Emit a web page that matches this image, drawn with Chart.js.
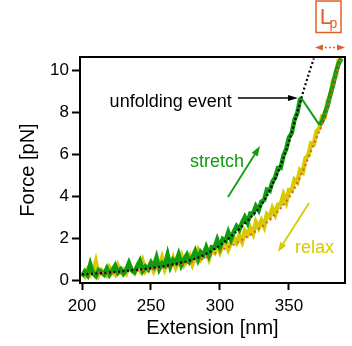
<!DOCTYPE html>
<html>
<head>
<meta charset="utf-8">
<script src="https://cdn.jsdelivr.net/npm/chart.js@4.4.1/dist/chart.umd.min.js"></script>
<style>
  html, body { margin: 0; padding: 0; background: #fff; }
  #wrap { width: 352px; height: 346px; }
</style>
</head>
<body>
<div id="wrap"><canvas id="forceChart" width="352" height="346"></canvas></div>
<script>
// Stretch trace (nm, pN): folded branch, unfolding jump, then unfolded branch
const stretchExt = [
  200, 202, 204, 206, 208, 210, 212, 214, 216, 218, 220, 222, 224, 226, 228, 230,
  232, 234, 236, 238, 240, 242, 244, 246, 248, 250, 252, 254, 256, 258, 260, 262,
  264, 266, 268, 270, 272, 274, 276, 278, 280, 282, 284, 286, 288, 290, 292, 294,
  296, 298, 300, 302, 304, 306, 308, 310, 312, 314, 316, 318, 320, 322, 324, 326,
  328, 330, 332, 334, 336, 338, 340, 342, 344, 346, 348, 350, 352, 354, 356, 358,
  359, 372, 374, 376, 378, 380, 382, 384, 386, 388
];
const stretchForce = [
  0.20, 0.43, 0.26, 0.77, 0.35, 0.22, 0.50, 0.41, 0.29, 0.58, 0.29, 0.48, 0.71, 0.38, 0.54, 0.33,
  0.51, 0.83, 0.49, 0.40, 0.67, 0.93, 0.47, 0.67, 0.53, 0.85, 0.67, 1.09, 0.56, 0.83, 0.72, 1.23,
  0.67, 0.98, 0.85, 1.23, 0.74, 1.01, 1.23, 0.91, 1.10, 1.40, 1.00, 1.36, 1.22, 1.58, 1.21, 1.59,
  1.57, 1.95, 1.58, 1.98, 1.89, 2.30, 1.96, 2.32, 2.59, 2.42, 2.75, 3.02, 2.75, 3.19, 3.19, 3.54,
  3.34, 3.75, 3.83, 4.32, 4.26, 4.70, 4.90, 5.35, 5.35, 5.95, 6.25, 6.80, 7.00, 7.65, 7.95, 8.60,
  8.66, 7.40, 7.55, 7.95, 8.30, 8.85, 9.30, 9.90, 10.30, 10.55
];

// Relax trace (nm, pN)
const relaxExt = [
  200, 202, 204, 206, 208, 210, 212, 214, 216, 218, 220, 222, 224, 226, 228, 230,
  232, 234, 236, 238, 240, 242, 244, 246, 248, 250, 252, 254, 256, 258, 260, 262,
  264, 266, 268, 270, 272, 274, 276, 278, 280, 282, 284, 286, 288, 290, 292, 294,
  296, 298, 300, 302, 304, 306, 308, 310, 312, 314, 316, 318, 320, 322, 324, 326,
  328, 330, 332, 334, 336, 338, 340, 342, 344, 346, 348, 350, 352, 354, 356, 358,
  360, 362, 364, 366, 368, 370, 372, 374, 376, 378, 380, 382, 384, 386, 388
];
const relaxForce = [
  0.35, 0.21, 0.51, 0.27, 0.43, 0.89, 0.27, 0.50, 0.36, 0.25, 0.63, 0.44, 0.30, 0.71, 0.42, 0.53,
  0.36, 0.80, 0.51, 0.37, 0.68, 0.49, 0.91, 0.47, 0.64, 0.85, 0.47, 0.74, 0.65, 1.07, 0.56, 0.86,
  0.69, 1.06, 0.64, 0.91, 1.19, 0.76, 0.94, 1.17, 0.78, 1.14, 1.43, 1.02, 1.21, 1.45, 1.06, 1.48,
  1.34, 1.76, 1.37, 1.68, 1.89, 1.50, 1.81, 2.02, 1.80, 2.12, 1.85, 2.37, 2.20, 2.49, 2.23, 2.77,
  2.51, 2.85, 2.57, 3.14, 3.01, 3.43, 3.15, 3.61, 3.62, 4.08, 3.74, 4.30, 4.27, 4.79, 4.67, 5.25,
  5.15, 5.82, 5.94, 6.51, 6.48, 7.10, 7.22, 7.79, 7.77, 8.51, 8.80, 9.52, 9.74, 10.45, 10.55
];

// WLC fit to the folded state
const fitFoldedExt = [200, 210, 220, 230, 240, 250, 260, 270, 280, 290, 300, 310, 320, 330, 335, 340, 345, 350, 355, 360, 365, 368];
const fitFoldedForce = [0.30, 0.34, 0.39, 0.45, 0.52, 0.60, 0.70, 0.83, 1.00, 1.28, 1.68, 2.22, 2.85, 3.60, 4.15, 4.85, 5.65, 6.60, 7.75, 8.90, 9.95, 10.55];

// WLC fit to the unfolded state
const fitUnfoldedExt = [200, 210, 220, 230, 240, 250, 260, 270, 280, 290, 300, 310, 320, 330, 340, 345, 350, 355, 360, 365, 370, 375, 380, 385, 388];
const fitUnfoldedForce = [0.30, 0.34, 0.38, 0.43, 0.48, 0.55, 0.64, 0.76, 0.90, 1.10, 1.42, 1.72, 2.10, 2.55, 3.15, 3.52, 3.95, 4.50, 5.20, 6.00, 6.80, 7.60, 8.70, 10.00, 10.60];

const xTicks = [200, 250, 300, 350];
const yTicks = [0, 2, 4, 6, 8, 10];

const GREEN = '#109c10';
const YELLOW = '#d6ca00';
const ORANGE = '#e0602a';
const FONT = '"Liberation Sans", Arial, sans-serif';

function toPoints(xs, ys) {
  return xs.map((v, i) => ({ x: v, y: ys[i] }));
}

function arrow(ctx, x1, y1, x2, y2, color, width, headLen, headW) {
  const a = Math.atan2(y2 - y1, x2 - x1);
  const bx = x2 - headLen * Math.cos(a), by = y2 - headLen * Math.sin(a);
  ctx.save();
  ctx.strokeStyle = color;
  ctx.fillStyle = color;
  ctx.lineWidth = width;
  ctx.beginPath();
  ctx.moveTo(x1, y1);
  ctx.lineTo(bx, by);
  ctx.stroke();
  ctx.beginPath();
  ctx.moveTo(x2, y2);
  ctx.lineTo(bx + headW / 2 * Math.sin(a), by - headW / 2 * Math.cos(a));
  ctx.lineTo(bx - headW / 2 * Math.sin(a), by + headW / 2 * Math.cos(a));
  ctx.closePath();
  ctx.fill();
  ctx.restore();
}

// frame, labels and arrows
const annotations = {
  id: 'annotations',
  afterDraw(chart) {
    const ctx = chart.ctx;
    const { left, right, top, bottom } = chart.chartArea;
    const px = v => chart.scales.x.getPixelForValue(v);
    const py = v => chart.scales.y.getPixelForValue(v);

    ctx.save();
    ctx.strokeStyle = '#000';
    ctx.lineWidth = 2;
    ctx.strokeRect(left, top, right - left, bottom - top);

    ctx.font = '18px ' + FONT;
    ctx.textBaseline = 'alphabetic';

    // unfolding event
    ctx.fillStyle = '#000';
    ctx.textAlign = 'right';
    ctx.fillText('unfolding event', px(308.5), py(8.26));
    arrow(ctx, px(313), py(8.67), px(356.5), py(8.67), '#000', 1.6, 10, 6);

    // stretch
    ctx.fillStyle = GREEN;
    ctx.textAlign = 'left';
    ctx.fillText('stretch', px(278.3), py(5.41));
    arrow(ctx, px(305.8), py(3.97), px(329), py(6.39), GREEN, 1.8, 10, 7);

    // relax
    ctx.fillStyle = YELLOW;
    ctx.fillText('relax', px(354.3), py(1.31));
    arrow(ctx, px(364.5), py(3.69), px(342), py(1.36), YELLOW, 1.8, 10, 7);

    // contour length increment
    ctx.strokeStyle = ORANGE;
    ctx.fillStyle = ORANGE;
    ctx.lineWidth = 1.5;
    ctx.strokeRect(px(369.6), 1, px(387.7) - px(369.6), 31.5);
    ctx.font = '22px ' + FONT;
    ctx.fillText('L', px(372.3), 24);
    ctx.font = '14px ' + FONT;
    ctx.fillText('p', px(379.3), 28);

    const ay = 47.5, ax1 = px(368.8), ax2 = px(390.6);
    ctx.setLineDash([2, 2]);
    ctx.beginPath();
    ctx.moveTo(ax1 + 6, ay);
    ctx.lineTo(ax2 - 6, ay);
    ctx.stroke();
    ctx.setLineDash([]);
    arrow(ctx, ax1 + 8, ay, ax1, ay, ORANGE, 1.5, 8, 6);
    arrow(ctx, ax2 - 8, ay, ax2, ay, ORANGE, 1.5, 8, 6);
    ctx.restore();
  }
};

const ctx = document.getElementById('forceChart').getContext('2d');
const forceChart = new Chart(ctx, {
  type: 'scatter',
  data: {
    datasets: [
      {
        label: 'fit folded',
        data: toPoints(fitFoldedExt, fitFoldedForce),
        showLine: true,
        borderColor: '#000',
        borderWidth: 2.2,
        borderDash: [2, 2.5],
        cubicInterpolationMode: 'monotone',
        pointRadius: 0
      },
      {
        label: 'fit unfolded',
        data: toPoints(fitUnfoldedExt, fitUnfoldedForce),
        showLine: true,
        borderColor: ORANGE,
        borderWidth: 2.2,
        borderDash: [2, 3],
        cubicInterpolationMode: 'monotone',
        pointRadius: 0
      },
      {
        label: 'stretch',
        data: toPoints(stretchExt, stretchForce),
        showLine: true,
        borderColor: GREEN,
        borderWidth: 4.5,
        borderJoinStyle: 'miter',
        // the unfolding jump is a single thin segment
        segment: {
          borderWidth: c => (c.p1.parsed.x - c.p0.parsed.x > 5 ? 2 : undefined)
        },
        pointRadius: 0
      },
      {
        label: 'relax',
        data: toPoints(relaxExt, relaxForce),
        showLine: true,
        borderColor: YELLOW,
        borderWidth: 4.5,
        borderJoinStyle: 'miter',
        pointRadius: 0
      }
    ]
  },
  options: {
    responsive: false,
    animation: false,
    events: [],
    layout: { padding: { left: 0, right: 7, top: 57, bottom: 0 } },
    plugins: {
      legend: { display: false },
      tooltip: { enabled: false }
    },
    scales: {
      x: {
        type: 'linear',
        min: 198.55,
        max: 390.6,
        afterBuildTicks: scale => { scale.ticks = xTicks.map(v => ({ value: v })); },
        afterFit: scale => { scale.height = 63; },
        border: { display: false },
        grid: {
          drawOnChartArea: false,
          drawTicks: true,
          tickLength: 7,
          tickWidth: 2,
          tickColor: '#000'
        },
        ticks: {
          color: '#000',
          padding: 6,
          maxRotation: 0,
          font: { family: FONT, size: 17 }
        },
        title: {
          display: true,
          text: 'Extension [nm]',
          color: '#000',
          padding: { top: 0, bottom: 6 },
          font: { family: FONT, size: 20 }
        }
      },
      y: {
        type: 'linear',
        min: -0.11,
        max: 10.62,
        afterBuildTicks: scale => { scale.ticks = yTicks.map(v => ({ value: v })); },
        afterFit: scale => { scale.width = 80; },
        border: { display: false },
        grid: {
          drawOnChartArea: false,
          drawTicks: true,
          tickLength: 8,
          tickWidth: 2,
          tickColor: '#000'
        },
        ticks: {
          color: '#000',
          padding: 3,
          font: { family: FONT, size: 17 }
        },
        title: {
          display: true,
          text: 'Force [pN]',
          color: '#000',
          padding: { top: 16, bottom: 0 },
          font: { family: FONT, size: 20 }
        }
      }
    }
  },
  plugins: [annotations]
});
</script>
</body>
</html>
